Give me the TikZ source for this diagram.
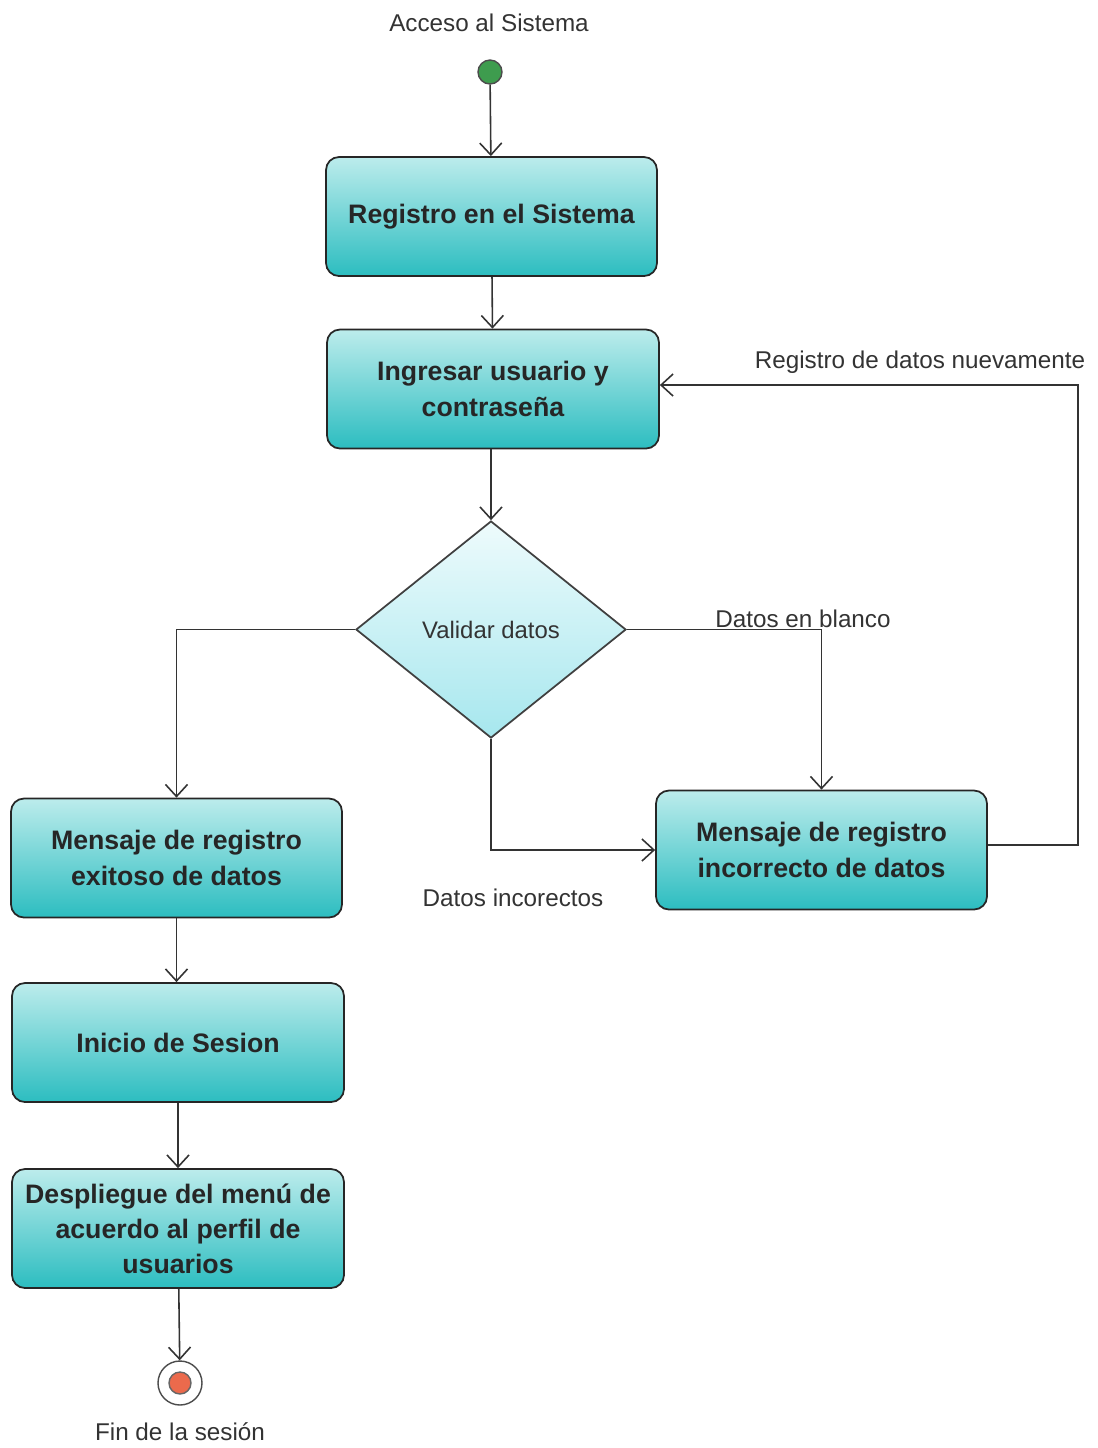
\documentclass[tikz,border=0pt]{standalone}
\usepackage{fontspec}
\setmainfont{Liberation Sans}
\usetikzlibrary{arrows.meta,shapes.geometric,positioning,calc}
\definecolor{cajaarriba}{HTML}{BCECEC}
\definecolor{cajaabajo}{HTML}{2CBDC0}
\definecolor{rombarriba}{HTML}{EEFBFC}
\definecolor{rombabajo}{HTML}{A6E7EE}
\definecolor{verdeini}{HTML}{3E9C4E}
\definecolor{rojofin}{HTML}{EB6A4C}
\tikzset{
  actividad/.style={draw=black!85,line width=0.5pt,rounded corners=0.13cm,minimum width=3.31cm,minimum height=1.19cm,
    top color=cajaarriba,bottom color=cajaabajo,align=center,font=\fontsize{7.6}{10}\selectfont\bfseries,text=black!85,inner sep=1pt},
  decision/.style={diamond,draw=black!75,line width=0.5pt,minimum width=2.7cm,minimum height=2.17cm,inner sep=0pt,
    top color=rombarriba,bottom color=rombabajo,font=\fontsize{6.8}{8}\selectfont,text=black!80},
  etiqueta/.style={font=\fontsize{6.9}{8}\selectfont,text=black!80,inner sep=0pt},
  flujo/.style={draw=black!80,line width=0.45pt,-{Straight Barb[length=1.2mm,width=2.2mm]}},
  linea/.style={draw=black!80,line width=0.45pt}
}
\begin{document}
\begin{tikzpicture}
\useasboundingbox (0,0) rectangle (10.98,-14.48);
\node[etiqueta] (acceso) at (4.89,-0.23) {Acceso al Sistema};
\node[circle,draw=black!70,fill=verdeini,minimum size=0.24cm,inner sep=0pt] (inicio) at (4.90,-0.72) {};
\node[actividad] (registro) at (4.915,-2.165) {Registro en el Sistema};
\node[actividad,minimum width=3.32cm] (ingresar) at (4.93,-3.89) {Ingresar usuario y\\contraseña};
\node[decision] (validar) at (4.91,-6.295) {Validar datos};
\node[actividad] (exito) at (1.765,-8.58) {Mensaje de registro\\exitoso de datos};
\node[actividad] (incorrecto) at (8.215,-8.50) {Mensaje de registro\\incorrecto de datos};
\node[actividad,minimum width=3.32cm] (sesion) at (1.78,-10.425) {Inicio de Sesion};
\node[actividad,minimum width=3.32cm] (menu) at (1.78,-12.285) {Despliegue del menú de\\acuerdo al perfil de\\usuarios};
\node[circle,draw=black!70,fill=white,minimum size=0.44cm,inner sep=0pt] (fin) at (1.80,-13.83) {};
\node[circle,draw=black!60,fill=rojofin,minimum size=0.22cm,inner sep=0pt] (finpunto) at (fin) {};
\node[etiqueta] (finsesion) at (1.80,-14.32) {Fin de la sesión};
\node[etiqueta] (blanco) at (8.03,-6.19) {Datos en blanco};
\node[etiqueta] (incorrectos) at (5.13,-8.98) {Datos incorectos};
\node[etiqueta] (nuevamente) at (9.20,-3.62) {Registro de datos nuevamente};
\coordinate (vuelta) at (10.78,-6.0);
\draw[flujo] (inicio) -- (registro);
\draw[flujo] (registro) -- (ingresar);
\draw[flujo] (ingresar.south -| validar.north) -- (validar.north);
\draw[flujo] (validar.west) -| (exito.north);
\draw[flujo] (validar.east) -| (incorrecto.north);
\draw[flujo] (validar.south) |- (incorrecto.west);
\draw[flujo] ([yshift=0.05cm]incorrecto.east) -| (vuelta) |- ([yshift=0.04cm]ingresar.east);
\draw[flujo] (exito) -- (exito |- sesion.north);
\draw[flujo] (sesion) -- (menu);
\draw[flujo] (menu) -- (fin);
\end{tikzpicture}
\end{document}
